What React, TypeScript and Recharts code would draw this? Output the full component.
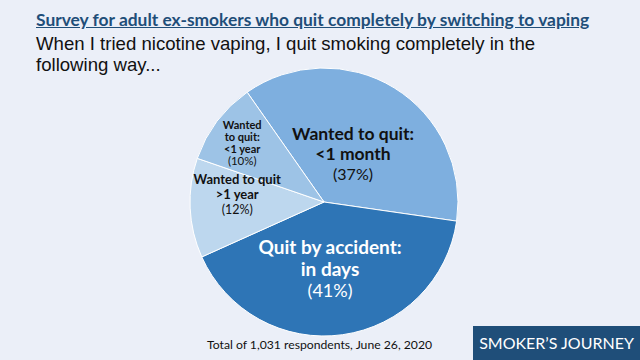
import React from 'react';
import { PieChart, Pie, Cell } from 'recharts';

// survey answers, clockwise from the top-left
const categories = [
  'Wanted to quit: <1 month',
  'Quit by accident: in days',
  'Wanted to quit >1 year',
  'Wanted to quit: <1 year',
];
const shares = [37, 41, 12, 10];
const labelLines = [
  ['Wanted to quit:', '<1 month'],
  ['Quit by accident:', 'in days'],
  ['Wanted to quit', '>1 year'],
  ['Wanted', 'to quit:', '<1 year'],
];

const data = categories.map((name, i) => ({ name, value: shares[i] }));

const COLORS = ['#7EAFDF', '#2E75B6', '#BDD7EE', '#9DC3E6'];

// per-slice label tuning: radius factor, angle shift, nudges, font sizes, line offsets
const LABEL_STYLE = [
  { r: 0.444, shift: -9.4, dx: -10, dy: 0, size: 17.5, pctSize: 16, color: '#111', offs: [-17, 3, 23] },
  { r: 0.545, shift: 5.5, dx: -11, dy: -3, size: 19, pctSize: 18, color: '#fff', offs: [-16, 6, 27] },
  { r: 0.62, shift: -7.6, dx: -4, dy: 0, size: 13, pctSize: 12.5, color: '#111', offs: [-11, 4, 19] },
  { r: 0.736, shift: 0, dx: -3, dy: 0, size: 11, pctSize: 11.5, color: '#111', offs: [-14, -2, 10, 22] },
];

const RAD = Math.PI / 180;
const FONT = 'Lato, "Open Sans", sans-serif';

const renderLabel = (props: any) => {
  const { cx, cy, midAngle, outerRadius, index, value } = props;
  const st = LABEL_STYLE[index];
  const a = (midAngle + st.shift) * RAD;
  const x = cx + outerRadius * st.r * Math.cos(a) + st.dx;
  const y = cy - outerRadius * st.r * Math.sin(a) + st.dy;
  const lines = labelLines[index];
  return (
    <text x={x} y={y} textAnchor="middle" fill={st.color} fontFamily={FONT}>
      {lines.map((t, i) => (
        <tspan key={i} x={x} y={y + st.offs[i]} fontWeight={700} fontSize={st.size}>
          {t}
        </tspan>
      ))}
      <tspan x={x} y={y + st.offs[lines.length]} fontWeight={400} fontSize={st.pctSize}>
        ({value}%)
      </tspan>
    </text>
  );
};

export default function App() {
  return (
    <div
      style={{
        position: 'absolute',
        left: 0,
        top: 0,
        width: 640,
        height: 360,
        background: '#EBEFF8',
        overflow: 'hidden',
      }}
    >
      <div
        style={{
          position: 'absolute',
          left: 36,
          top: 9,
          fontFamily: FONT,
          fontWeight: 700,
          fontSize: 17.4,
          color: '#1F4E79',
          textDecoration: 'underline',
          whiteSpace: 'nowrap',
        }}
      >
        Survey for adult ex-smokers who quit completely by switching to vaping
      </div>
      <div
        style={{
          position: 'absolute',
          left: 36,
          top: 33,
          width: 580,
          fontFamily: '"Liberation Sans", Arial, sans-serif',
          fontSize: 18.6,
          lineHeight: '21px',
          color: '#111',
        }}
      >
        When I tried nicotine vaping, I quit smoking completely in the
        <br />
        following way...
      </div>

      <div style={{ position: 'absolute', left: 0, top: 0 }}>
        <PieChart width={640} height={360}>
          <Pie
            data={data}
            dataKey="value"
            nameKey="name"
            cx={319}
            cy={197}
            outerRadius={134}
            startAngle={125}
            endAngle={-235}
            stroke="#fff"
            strokeWidth={1}
            label={renderLabel}
            labelLine={false}
            isAnimationActive={false}
          >
            {data.map((d, i) => (
              <Cell key={d.name} fill={COLORS[i]} />
            ))}
          </Pie>
        </PieChart>
      </div>

      <div
        style={{
          position: 'absolute',
          left: 207,
          top: 337,
          fontFamily: FONT,
          fontSize: 12.2,
          color: '#111',
          whiteSpace: 'nowrap',
        }}
      >
        Total of 1,031 respondents, June 26, 2020
      </div>
      <div
        style={{
          position: 'absolute',
          left: 473,
          top: 326,
          width: 167,
          height: 34,
          background: '#1F4E79',
          color: '#fff',
          fontFamily: FONT,
          fontSize: 16,
          lineHeight: '34px',
          textAlign: 'center',
          whiteSpace: 'nowrap',
        }}
      >
        SMOKER’S JOURNEY
      </div>
    </div>
  );
}
